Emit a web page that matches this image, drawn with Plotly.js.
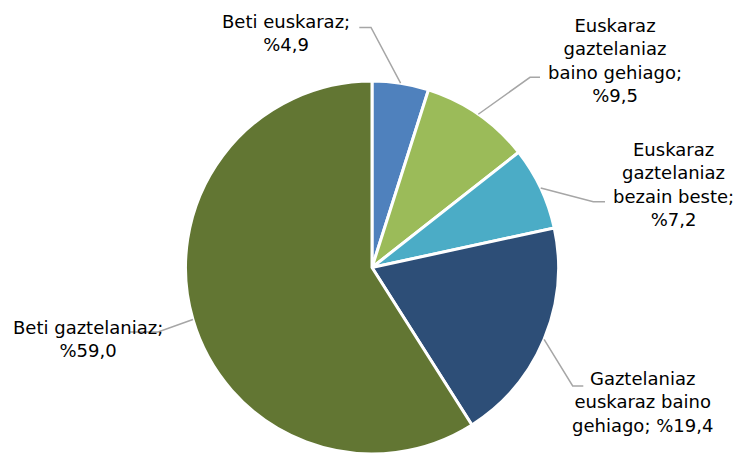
<!DOCTYPE html>
<html>
<head>
<meta charset="utf-8">
<script src="https://cdn.plot.ly/plotly-3.0.1.min.js"></script>
<style>html,body{margin:0;padding:0;background:#fff;}#chart{width:752px;height:454px;}</style>
</head>
<body>
<div id="chart"></div>
<script>
// ---- data ----
const categories = [
  "Beti euskaraz",
  "Euskaraz gaztelaniaz baino gehiago",
  "Euskaraz gaztelaniaz bezain beste",
  "Gaztelaniaz euskaraz baino gehiago",
  "Beti gaztelaniaz"
];
const values = [4.9, 9.5, 7.2, 19.4, 59.0];
const labelLines = [
  ["Beti euskaraz;"],
  ["Euskaraz", "gaztelaniaz", "baino gehiago;"],
  ["Euskaraz", "gaztelaniaz", "bezain beste;"],
  ["Gaztelaniaz", "euskaraz baino", "gehiago;"],
  ["Beti gaztelaniaz;"]
];
const colors = ["#4F81BD", "#9BBB59", "#4BACC6", "#2D4E77", "#627633"];

// ---- layout geometry (pixels) ----
const W = 752, H = 454;
const CX = 372, R = 186.5, TOP = 81;
const CY = TOP + R;
// label centres and leader line elbows/ends
const labelPos = [[286, 33], [615, 60], [673, 184], [642, 402], [88, 339]];
const elbows = [[371, 27.5], [530, 77.3], [593.3, 201.7], [572.7, 386], [158, 332]];
const ends = [[359.3, 27.5], [540, 77.3], [605, 201.7], [583.3, 386], [130, 332]];

function fmt(v) { return "%" + v.toFixed(1).replace(".", ","); }
const px = x => x / W, py = y => 1 - y / H;

const total = values.reduce((a, b) => a + b, 0);
const annotations = [], shapes = [];
let cum = 0;
values.forEach((v, i) => {
  const mid = (cum + v / 2) / total * 2 * Math.PI;
  cum += v;
  const ex = CX + R * Math.sin(mid), ey = CY - R * Math.cos(mid);
  const lines = labelLines[i].slice();
  if (i === 3) lines[lines.length - 1] += " " + fmt(v);
  else lines.push(fmt(v));
  annotations.push({
    text: lines.join("<br>"), showarrow: false,
    xref: "paper", yref: "paper",
    x: px(labelPos[i][0]), y: py(labelPos[i][1]),
    xanchor: "center", yanchor: "middle", align: "center",
    font: {family: "DejaVu Sans, Verdana, sans-serif", size: 18, color: "#000"}
  });
  shapes.push({
    type: "path", xref: "paper", yref: "paper",
    path: `M${px(ex)},${py(ey)} L${px(elbows[i][0])},${py(elbows[i][1])} L${px(ends[i][0])},${py(ends[i][1])}`,
    line: {color: "#A6A6A6", width: 1.5}
  });
});

const trace = {
  type: "pie",
  labels: categories,
  values: values,
  sort: false,
  direction: "clockwise",
  rotation: 0,
  textinfo: "none",
  hoverinfo: "label+percent",
  marker: {colors: colors, line: {color: "#ffffff", width: 3}},
  domain: {x: [(CX - R) / W, (CX + R) / W], y: [0, 1 - TOP / H]},
  showlegend: false
};

const layout = {
  width: W, height: H,
  margin: {l: 0, r: 0, t: 0, b: 0},
  paper_bgcolor: "#ffffff",
  showlegend: false,
  annotations: annotations,
  shapes: shapes
};

Plotly.newPlot("chart", [trace], layout, {displayModeBar: false, staticPlot: true});
</script>
</body>
</html>
